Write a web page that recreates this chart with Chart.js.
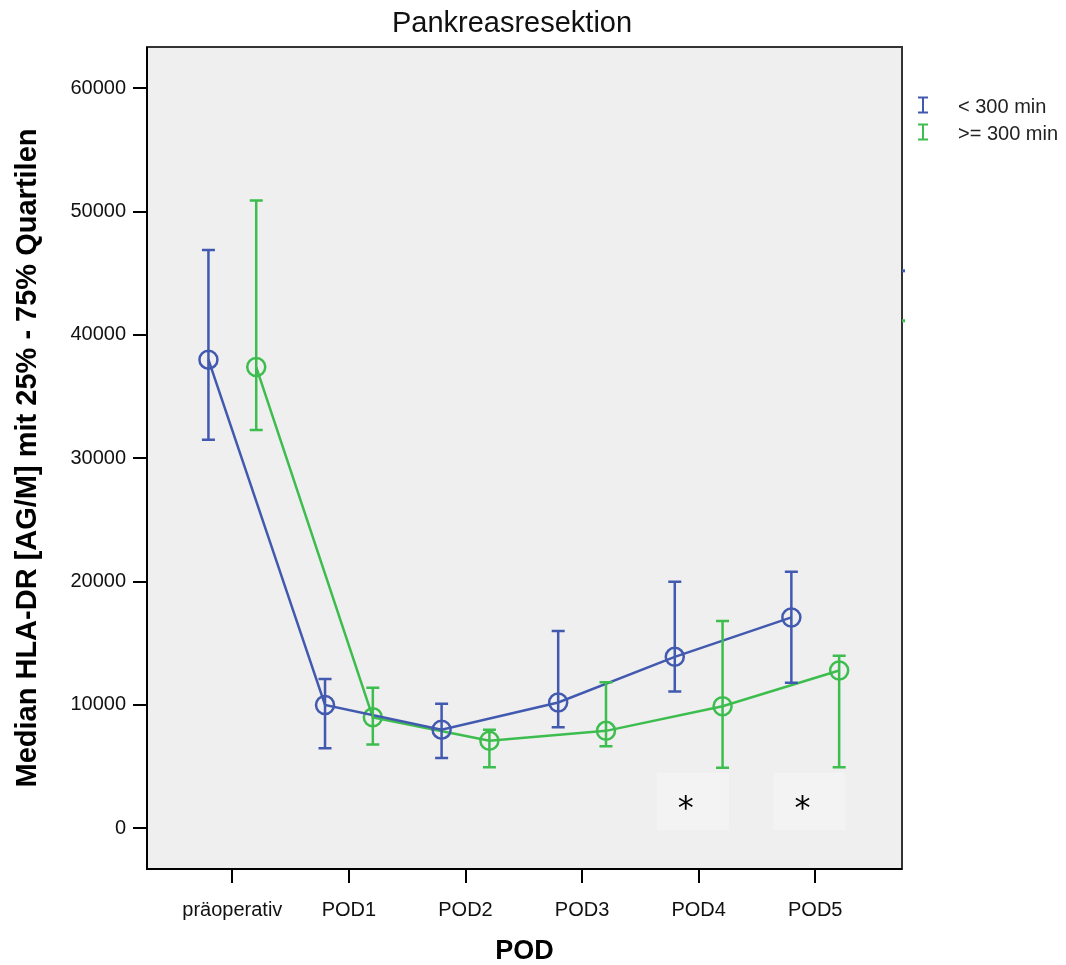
<!DOCTYPE html>
<html lang="de">
<head>
<meta charset="utf-8">
<script src="https://cdn.jsdelivr.net/npm/chart.js@4.4.1/dist/chart.umd.min.js"></script>
<style>
  html, body { margin: 0; padding: 0; background: #fff; }
  #wrap { width: 1066px; height: 965px; }
</style>
</head>
<body>
<div id="wrap"><canvas id="hla-chart" width="1066" height="965"></canvas></div>
<script>
    // categories on the x axis
    const categories = ["präoperativ", "POD1", "POD2", "POD3", "POD4", "POD5"];

    // < 300 min: median with 25% / 75% quartiles
    const shortMedian = [38000, 10000, 8000, 10200, 13900, 17100];
    const shortQ1 = [31500, 6500, 5700, 8200, 11100, 11800];
    const shortQ3 = [46900, 12100, 10100, 16000, 20000, 20800];

    // >= 300 min
    const longMedian = [37400, 9000, 7100, 7900, 9900, 12800];
    const longQ1 = [32300, 6800, 4950, 6650, 4900, 4950];
    const longQ3 = [50900, 11400, 8000, 11850, 16800, 14000];

    const seriesLabels = ["< 300 min", ">= 300 min"];
    const yTickValues = [0, 10000, 20000, 30000, 40000, 50000, 60000];
    const significantDays = ["POD4", "POD5"];

    const BLUE = "#4259b0";
    const GREEN = "#3dbd4e";
    const FONT = '"Liberation Sans", Arial, sans-serif';

    const pts = (vals, shift) => vals.map((v, i) => ({x: i + shift, y: v}));

    const decor = {
        id: "decor",
        beforeDraw(chart) {
            const {ctx, chartArea: a, scales} = chart;
            ctx.save();
            ctx.fillStyle = "#efefef";
            ctx.fillRect(a.left, a.top, a.right - a.left, a.bottom - a.top);
            // faint boxes behind the asterisks
            ctx.fillStyle = "#f3f3f3";
            significantDays.forEach(d => {
                const i = categories.indexOf(d);
                const x0 = scales.x.getPixelForValue(i - 0.36);
                const x1 = scales.x.getPixelForValue(i + 0.26);
                const y0 = scales.y.getPixelForValue(4500);
                const y1 = scales.y.getPixelForValue(-150);
                ctx.fillRect(x0, y0, x1 - x0, y1 - y0);
            });
            ctx.restore();
        },
        afterDatasetsDraw(chart) {
            const {ctx, scales} = chart;
            ctx.save();
            chart.data.datasets.forEach(ds => {
                ctx.strokeStyle = ds.borderColor;
                ctx.lineWidth = 2.5;
                ds.data.forEach((p, i) => {
                    const x = scales.x.getPixelForValue(p.x);
                    const lo = scales.y.getPixelForValue(ds.q1[i]);
                    const hi = scales.y.getPixelForValue(ds.q3[i]);
                    ctx.beginPath();
                    ctx.moveTo(x, lo); ctx.lineTo(x, hi);
                    ctx.moveTo(x - 6.5, lo); ctx.lineTo(x + 6.5, lo);
                    ctx.moveTo(x - 6.5, hi); ctx.lineTo(x + 6.5, hi);
                    ctx.stroke();
                });
            });
            ctx.restore();
        },
        afterDraw(chart) {
            const {ctx, chartArea: a, scales} = chart;
            ctx.save();
            // frame
            ctx.lineWidth = 2;
            ctx.strokeStyle = "#333";
            ctx.strokeRect(a.left, a.top, a.right - a.left, a.bottom - a.top);
            ctx.strokeStyle = "#000";
            ctx.beginPath();
            ctx.moveTo(a.left, a.top); ctx.lineTo(a.left, a.bottom); ctx.lineTo(a.right, a.bottom);
            ctx.stroke();

            // title
            ctx.fillStyle = "#111";
            ctx.font = "29px " + FONT;
            ctx.textAlign = "center";
            ctx.textBaseline = "alphabetic";
            ctx.fillText("Pankreasresektion", 512, 32);

            // asterisks
            ctx.font = "32px DejaVu Sans";
            ctx.fillStyle = "#000";
            significantDays.forEach(d => {
                const i = categories.indexOf(d);
                ctx.fillText("*", scales.x.getPixelForValue(i - 0.11), scales.y.getPixelForValue(2300) + 18);
            });

            // stray marks at right edge
            ctx.fillStyle = BLUE;
            ctx.fillRect(a.right, scales.y.getPixelForValue(45200) - 1.5, 3, 3);
            ctx.fillStyle = GREEN;
            ctx.fillRect(a.right, scales.y.getPixelForValue(41150) - 1.5, 3, 3);

            // legend
            ctx.textAlign = "left";
            ctx.textBaseline = "middle";
            ctx.font = "20px " + FONT;
            chart.data.datasets.forEach((ds, k) => {
                const cy = 105 + k * 27;
                const cx = 923;
                ctx.strokeStyle = ds.borderColor;
                ctx.lineWidth = 2;
                ctx.beginPath();
                ctx.moveTo(cx, cy - 7.5); ctx.lineTo(cx, cy + 7.5);
                ctx.moveTo(cx - 5, cy - 7.5); ctx.lineTo(cx + 5, cy - 7.5);
                ctx.moveTo(cx - 5, cy + 7.5); ctx.lineTo(cx + 5, cy + 7.5);
                ctx.stroke();
                ctx.fillStyle = "#222";
                ctx.fillText(ds.label, 958, cy + 2);
            });
            ctx.restore();
        }
    };

    const makeSet = (label, color, med, q1, q3, shift) => ({
        label: label,
        data: pts(med, shift),
        q1: q1,
        q3: q3,
        borderColor: color,
        backgroundColor: "rgba(0,0,0,0)",
        borderWidth: 2.5,
        pointRadius: 9,
        pointHoverRadius: 9,
        pointBorderWidth: 2.5,
        pointBackgroundColor: "rgba(0,0,0,0)",
        tension: 0
    });

    new Chart("hla-chart", {
        type: "line",
        data: {
            datasets: [
                makeSet(seriesLabels[0], BLUE, shortMedian, shortQ1, shortQ3, -0.205),
                makeSet(seriesLabels[1], GREEN, longMedian, longQ1, longQ3, 0.205)
            ]
        },
        options: {
            responsive: false,
            devicePixelRatio: 1,
            animation: false,
            layout: {padding: {top: 47, right: 164, bottom: 0, left: 0}},
            plugins: {legend: {display: false}, tooltip: {enabled: false}},
            scales: {
                x: {
                    type: "linear",
                    min: -0.732,
                    max: 5.744,
                    afterBuildTicks: s => { s.ticks = categories.map((c, i) => ({value: i})); },
                    afterFit: s => { s.height = 96; },
                    border: {display: false},
                    grid: {drawOnChartArea: false, drawTicks: true, tickLength: 14, color: "#000", lineWidth: 2},
                    ticks: {
                        callback: v => categories[v],
                        font: {family: FONT, size: 20},
                        color: "#111",
                        padding: 15,
                        maxRotation: 0,
                        autoSkip: false
                    },
                    title: {
                        display: true,
                        text: "POD",
                        color: "#000",
                        font: {family: FONT, size: 27, weight: "bold", lineHeight: 1},
                        padding: {top: 0, bottom: 0}
                    }
                },
                y: {
                    min: -3300,
                    max: 63350,
                    afterBuildTicks: s => { s.ticks = yTickValues.map(v => ({value: v})); },
                    afterFit: s => { s.width = 147; },
                    border: {display: false},
                    grid: {drawOnChartArea: false, drawTicks: true, tickLength: 14, color: "#000", lineWidth: 2},
                    ticks: {
                        callback: v => String(v),
                        font: {family: FONT, size: 20},
                        color: "#111",
                        padding: 7
                    },
                    title: {
                        display: true,
                        text: "Median HLA-DR [AG/M] mit 25% - 75% Quartilen",
                        color: "#000",
                        font: {family: FONT, size: 29, weight: "bold", lineHeight: 1},
                        padding: {top: 13, bottom: 0}
                    }
                }
            }
        },
        plugins: [decor]
    });
</script>
</body>
</html>
